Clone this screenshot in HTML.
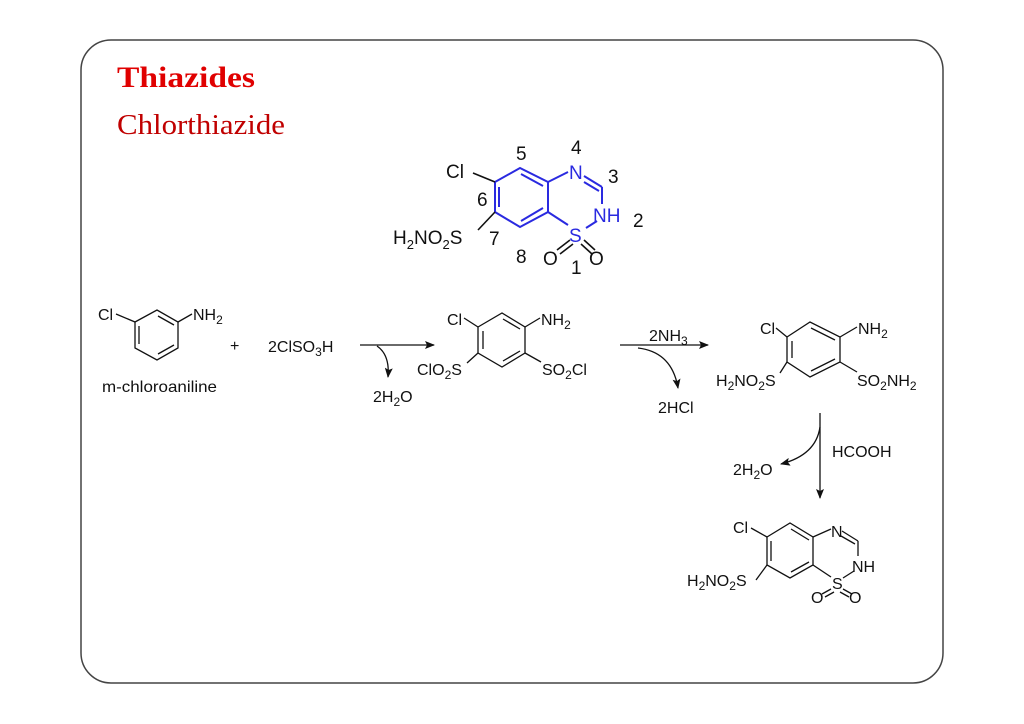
<!DOCTYPE html>
<html><head><meta charset="utf-8"><style>
html,body{margin:0;padding:0;background:#fff;width:1024px;height:724px;overflow:hidden}
svg{display:block}
.t{font-family:"Liberation Sans",sans-serif;font-size:16px;fill:#111}
.n{font-family:"Liberation Sans",sans-serif;font-size:19px;fill:#111}
.b{font-family:"Liberation Sans",sans-serif;font-size:19px;fill:#2a2ae0}
</style></head><body>
<svg width="1024" height="724" viewBox="0 0 1024 724">
<defs><marker id="ah" markerWidth="10" markerHeight="8" refX="9" refY="4" orient="auto" markerUnits="userSpaceOnUse"><path d="M0,0 L10,4 L0,8 L2,4 Z" fill="#111"/></marker></defs>
<rect x="81" y="40" width="862" height="643" rx="30" ry="30" fill="none" stroke="#444" stroke-width="1.5"/>
<text x="117" y="87" font-family="Liberation Serif,serif" font-weight="bold" font-size="30" fill="#e00000" textLength="138" lengthAdjust="spacingAndGlyphs">Thiazides</text>
<text x="117" y="134" font-family="Liberation Serif,serif" font-size="29" fill="#c00000" textLength="168" lengthAdjust="spacingAndGlyphs">Chlorthiazide</text>

<!-- top chlorothiazide -->
<g stroke="#2a2ae0" stroke-width="2" fill="none">
<polyline points="495,182 520,168 548,182 548,212 520,227 495,212 495,182"/>
<line x1="499" y1="187" x2="499" y2="207"/><line x1="521" y1="174" x2="543" y2="186"/><line x1="521" y1="221" x2="543" y2="208"/>
<line x1="548" y1="182" x2="568" y2="172"/><line x1="584" y1="176" x2="602" y2="187"/><line x1="584" y1="182" x2="599" y2="191"/>
<line x1="602" y1="187" x2="602" y2="204"/><line x1="597" y1="221" x2="586" y2="228"/>
<line x1="548" y1="212" x2="568" y2="225"/>
</g>
<g stroke="#111" stroke-width="1.6" fill="none">
<line x1="473" y1="173" x2="495" y2="182"/><line x1="478" y1="230" x2="495" y2="212"/>
<line x1="570" y1="240" x2="557" y2="250"/><line x1="573" y1="244" x2="560" y2="254"/>
<line x1="584" y1="240" x2="595" y2="250"/><line x1="581" y1="244" x2="592" y2="254"/>
</g>
<text class="b" x="569" y="179">N</text>
<text class="b" x="593" y="222">NH</text>
<text class="b" x="569" y="242">S</text>
<text class="n" x="446" y="178">Cl</text>
<text class="n" x="393" y="244">H<tspan font-size="13" dy="5">2</tspan><tspan dy="-5">NO</tspan><tspan font-size="13" dy="5">2</tspan><tspan dy="-5">S</tspan></text>
<text class="n" x="543" y="265">O</text><text class="n" x="589" y="265">O</text>
<text class="n" x="516" y="160">5</text><text class="n" x="571" y="154">4</text><text class="n" x="608" y="183">3</text>
<text class="n" x="633" y="227">2</text><text class="n" x="477" y="206">6</text><text class="n" x="489" y="245">7</text>
<text class="n" x="516" y="263">8</text><text class="n" x="571" y="274">1</text>

<!-- m-chloroaniline -->
<g stroke="#111" stroke-width="1.3" fill="none">
<polyline points="135,322 157,310 178,322 178,348 157,360 135,348 135,322"/>
<line x1="139" y1="326" x2="139" y2="344"/><line x1="158" y1="316" x2="174" y2="325"/><line x1="158" y1="354" x2="174" y2="345"/>
<line x1="116" y1="314" x2="135" y2="322"/><line x1="178" y1="322" x2="192" y2="314"/>
</g>
<text class="t" x="98" y="320">Cl</text>
<text class="t" x="193" y="320">NH<tspan font-size="12" dy="4">2</tspan></text>
<text class="t" x="102" y="392" textLength="115" lengthAdjust="spacingAndGlyphs">m-chloroaniline</text>
<text class="t" x="230" y="351" font-size="13">+</text>
<text class="t" x="268" y="352">2ClSO<tspan font-size="12" dy="4">3</tspan><tspan dy="-4">H</tspan></text>
<g stroke="#111" stroke-width="1.3" fill="none">
<line x1="360" y1="345" x2="434" y2="345" marker-end="url(#ah)"/>
<path d="M377,346 Q390,355 388,377" marker-end="url(#ah)"/>
</g>
<text class="t" x="373" y="402">2H<tspan font-size="12" dy="4">2</tspan><tspan dy="-4">O</tspan></text>

<!-- intermediate 1 -->
<g stroke="#111" stroke-width="1.3" fill="none">
<polyline points="478,327 502,313 525,327 525,353 502,367 478,353 478,327"/>
<line x1="483" y1="331" x2="483" y2="349"/><line x1="503" y1="319" x2="520" y2="329"/><line x1="503" y1="361" x2="520" y2="351"/>
<line x1="464" y1="318" x2="478" y2="327"/><line x1="525" y1="327" x2="540" y2="318"/>
<line x1="467" y1="363" x2="478" y2="353"/><line x1="525" y1="353" x2="541" y2="362"/>
</g>
<text class="t" x="447" y="325">Cl</text>
<text class="t" x="541" y="325">NH<tspan font-size="12" dy="4">2</tspan></text>
<text class="t" x="417" y="375">ClO<tspan font-size="12" dy="4">2</tspan><tspan dy="-4">S</tspan></text>
<text class="t" x="542" y="375">SO<tspan font-size="12" dy="4">2</tspan><tspan dy="-4">Cl</tspan></text>

<!-- arrow 2 -->
<g stroke="#111" stroke-width="1.3" fill="none">
<line x1="620" y1="345" x2="708" y2="345" marker-end="url(#ah)"/>
<path d="M638,348 Q672,352 678,388" marker-end="url(#ah)"/>
</g>
<text class="t" x="649" y="341">2NH<tspan font-size="12" dy="4">3</tspan></text>
<text class="t" x="658" y="413">2HCl</text>

<!-- intermediate 2 -->
<g stroke="#111" stroke-width="1.3" fill="none">
<polyline points="787,337 810,322 840,337 840,362 810,377 787,362 787,337"/>
<line x1="792" y1="341" x2="792" y2="358"/><line x1="811" y1="328" x2="835" y2="340"/><line x1="811" y1="371" x2="835" y2="359"/>
<line x1="776" y1="328" x2="787" y2="337"/><line x1="840" y1="337" x2="857" y2="327"/>
<line x1="780" y1="373" x2="787" y2="362"/><line x1="840" y1="362" x2="857" y2="372"/>
</g>
<text class="t" x="760" y="334">Cl</text>
<text class="t" x="858" y="334">NH<tspan font-size="12" dy="4">2</tspan></text>
<text class="t" x="716" y="386">H<tspan font-size="12" dy="4">2</tspan><tspan dy="-4">NO</tspan><tspan font-size="12" dy="4">2</tspan><tspan dy="-4">S</tspan></text>
<text class="t" x="857" y="386">SO<tspan font-size="12" dy="4">2</tspan><tspan dy="-4">NH</tspan><tspan font-size="12" dy="4">2</tspan></text>

<!-- arrow 3 -->
<g stroke="#111" stroke-width="1.3" fill="none">
<line x1="820" y1="413" x2="820" y2="498" marker-end="url(#ah)"/>
<path d="M820,427 Q816,455 781,464" marker-end="url(#ah)"/>
</g>
<text class="t" x="832" y="457">HCOOH</text>
<text class="t" x="733" y="475">2H<tspan font-size="12" dy="4">2</tspan><tspan dy="-4">O</tspan></text>

<!-- final product -->
<g stroke="#111" stroke-width="1.3" fill="none">
<polyline points="767,537 790,523 813,537 813,565 790,578 767,565 767,537"/>
<line x1="771" y1="541" x2="771" y2="561"/><line x1="791" y1="529" x2="809" y2="540"/><line x1="791" y1="572" x2="809" y2="562"/>
<line x1="751" y1="528" x2="767" y2="537"/><line x1="756" y1="580" x2="767" y2="565"/>
<line x1="813" y1="537" x2="831" y2="529"/><line x1="842" y1="531" x2="858" y2="541"/><line x1="841" y1="536" x2="855" y2="544"/>
<line x1="858" y1="541" x2="858" y2="556"/><line x1="854" y1="571" x2="843" y2="578"/>
<line x1="813" y1="565" x2="831" y2="577"/>
<line x1="831" y1="589" x2="822" y2="594"/><line x1="834" y1="592" x2="825" y2="597"/>
<line x1="843" y1="589" x2="852" y2="594"/><line x1="840" y1="592" x2="849" y2="597"/>
</g>
<text class="t" x="831" y="537">N</text>
<text class="t" x="852" y="572">NH</text>
<text class="t" x="832" y="589">S</text>
<text class="t" x="733" y="533">Cl</text>
<text class="t" x="687" y="586">H<tspan font-size="12" dy="4">2</tspan><tspan dy="-4">NO</tspan><tspan font-size="12" dy="4">2</tspan><tspan dy="-4">S</tspan></text>
<text class="t" x="811" y="603">O</text><text class="t" x="849" y="603">O</text>
</svg>
</body></html>
